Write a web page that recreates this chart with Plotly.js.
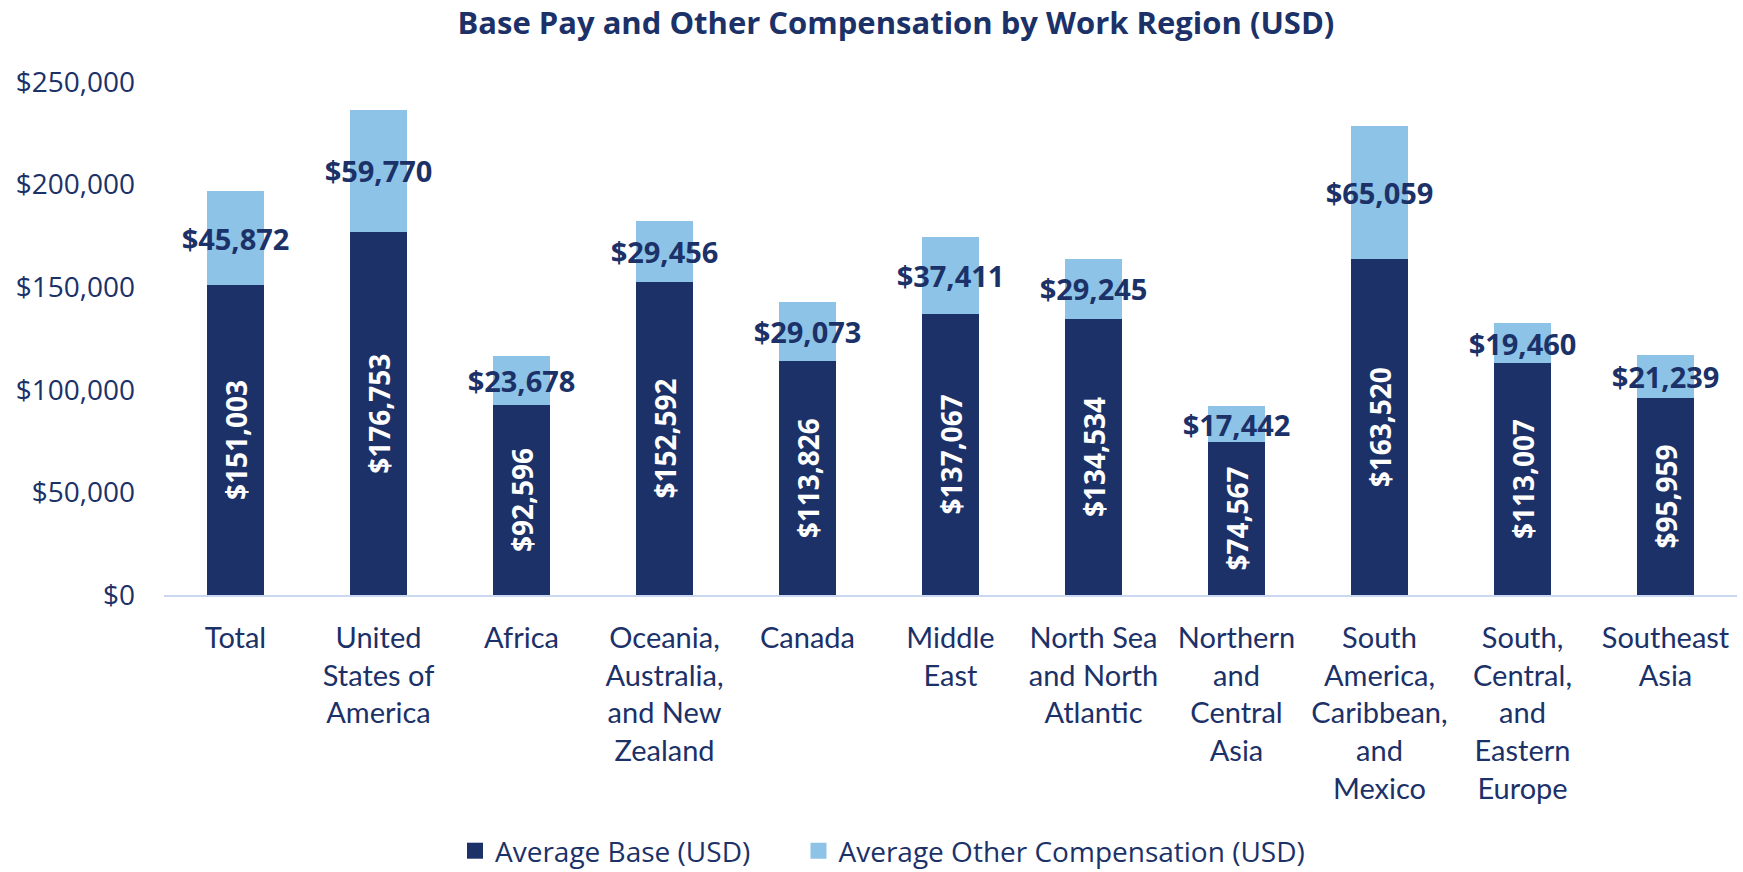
<!DOCTYPE html>
<html>
<head>
<meta charset="utf-8">
<script src="https://cdn.plot.ly/plotly-3.0.1.min.js"></script>
<style>html,body{margin:0;padding:0;background:#fff;}#chart{width:1743px;height:872px;}</style>
</head>
<body>
<div id="chart"></div>
<script>
const categories = [
  "Total",
  "United<br>States of<br>America",
  "Africa",
  "Oceania,<br>Australia,<br>and New<br>Zealand",
  "Canada",
  "Middle<br>East",
  "North Sea<br>and North<br>Atlantic",
  "Northern<br>and<br>Central<br>Asia",
  "South<br>America,<br>Caribbean,<br>and<br>Mexico",
  "South,<br>Central,<br>and<br>Eastern<br>Europe",
  "Southeast<br>Asia"
];
const averageBase = [151003, 176753, 92596, 152592, 113826, 137067, 134534, 74567, 163520, 113007, 95959];
const averageOther = [45872, 59770, 23678, 29456, 29073, 37411, 29245, 17442, 65059, 19460, 21239];
const seriesNames = ["Average Base (USD)", "Average Other Compensation (USD)"];

const NAVY = "#1B3168";
const LIGHT = "#8DC3E6";
const FONT = "Open Sans, sans-serif";
const CATFONT = "Lato, Open Sans, sans-serif";

const traces = [
  {
    type: "bar",
    name: seriesNames[0],
    x: categories,
    y: averageBase,
    marker: {color: NAVY},
    texttemplate: "$%{y:,.0f}",
    textposition: "inside",
    insidetextanchor: "middle",
    textangle: -90,
    constraintext: "none",
    insidetextfont: {family: FONT, size: 28, color: "#FFFFFF", weight: "bold"},
    showlegend: false,
    hoverinfo: "skip"
  },
  {
    type: "bar",
    name: seriesNames[1],
    x: categories,
    y: averageOther,
    marker: {color: LIGHT},
    texttemplate: "$%{y:,.0f}",
    textposition: "inside",
    insidetextanchor: "middle",
    textangle: 0,
    constraintext: "none",
    insidetextfont: {family: FONT, size: 29, color: NAVY, weight: "bold"},
    showlegend: false,
    hoverinfo: "skip"
  },
  {
    type: "scatter",
    mode: "markers",
    name: seriesNames[0],
    x: [null],
    y: [null],
    marker: {color: NAVY, symbol: "square", size: 19},
    showlegend: true,
    legend: "legend",
    hoverinfo: "skip"
  },
  {
    type: "scatter",
    mode: "markers",
    name: seriesNames[1],
    x: [null],
    y: [null],
    marker: {color: LIGHT, symbol: "square", size: 19},
    showlegend: true,
    legend: "legend2",
    hoverinfo: "skip"
  }
];

const legendBase = {
  orientation: "h",
  xref: "container",
  yref: "container",
  xanchor: "left",
  y: 1 - 851 / 872,
  yanchor: "middle",
  font: {family: FONT, size: 28, color: NAVY},
  itemwidth: 30,
  bgcolor: "rgba(0,0,0,0)"
};

const layout = {
  width: 1743,
  height: 872,
  barmode: "stack",
  bargap: 0.6,
  paper_bgcolor: "#FFFFFF",
  plot_bgcolor: "#FFFFFF",
  font: {family: FONT, color: NAVY},
  margin: {l: 164, r: 6, t: 82, b: 277},
  title: {
    text: "<b>Base Pay and Other Compensation by Work Region (USD)</b>",
    font: {family: FONT, size: 31, color: NAVY},
    x: 0.514,
    xanchor: "center",
    xref: "container",
    y: 1 - 23 / 872,
    yanchor: "middle",
    yref: "container"
  },
  xaxis: {
    type: "category",
    showline: true,
    linecolor: "#CAD7F0",
    linewidth: 2,
    showgrid: false,
    zeroline: false,
    ticks: "",
    ticklabelstandoff: 16,
    tickfont: {family: CATFONT, size: 29, color: NAVY},
    tickangle: 0
  },
  yaxis: {
    range: [0, 250000],
    dtick: 50000,
    tickprefix: "$",
    tickformat: ",.0f",
    showgrid: false,
    zeroline: false,
    showline: false,
    ticks: "",
    ticklabelstandoff: 28,
    tickfont: {family: FONT, size: 28, color: NAVY}
  },
  showlegend: true,
  legend: Object.assign({}, legendBase, {x: 455 / 1743}),
  legend2: Object.assign({}, legendBase, {x: (455 + 343.5) / 1743})
};

Plotly.newPlot("chart", traces, layout, {displayModeBar: false, staticPlot: true});
</script>
</body>
</html>
